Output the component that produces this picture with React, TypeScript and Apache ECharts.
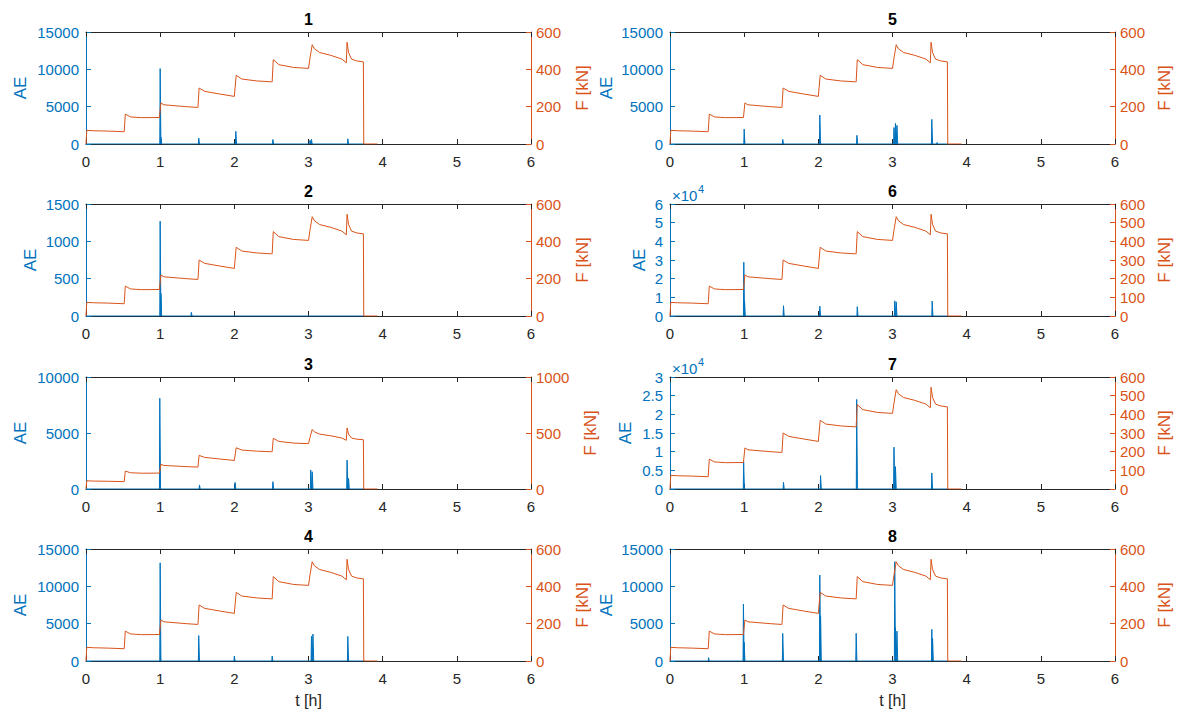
import React, { useEffect, useRef } from "react";
import * as echarts from "echarts";

const BLUE = "#0072BD";
const ORANGE = "#D95319";
const DARK = "#262626";
const FONT = "'Liberation Sans', Arial, Helvetica, sans-serif";

const PLOT_TITLES = ["1", "2", "3", "4", "5", "6", "7", "8"];
const X_MIN = 0;
const X_MAX = 6;
const X_STEP = 1;
const X_NAME = "t [h]";
const AE_NAME = "AE";
const F_NAME = "F [kN]";

// applied force (same test for all 8 sensors)
const FORCE_T = [0, 0.01, 0.1, 0.3, 0.5, 0.515, 0.53, 0.6, 0.75, 0.99, 0.995, 1.01, 1.05, 1.2, 1.35, 1.5, 1.51, 1.525, 1.6, 1.8, 2.0, 2.005, 2.025, 2.1, 2.3, 2.5, 2.51, 2.525, 2.6, 2.8, 3.0, 3.02, 3.05, 3.08, 3.15, 3.3, 3.45, 3.51, 3.52, 3.54, 3.58, 3.65, 3.74, 3.745, 3.93];
const FORCE_V = [0, 73, 71, 69, 66, 66, 160, 145, 141, 142, 142, 220, 210, 205, 200, 196, 196, 300, 282, 268, 255, 255, 368, 348, 338, 333, 333, 452, 425, 410, 405, 460, 532, 510, 490, 475, 455, 435, 545, 490, 455, 445, 440, 0, 0];

// acoustic emission peaks per sensor: times [h] and peak values
const AE1_T = [1.0, 1.01, 1.52, 2.02, 2.52, 3.02, 3.04, 3.53];
const AE1_V = [10100, 900, 800, 1700, 600, 500, 600, 700];
const AE2_T = [1.0, 1.01, 1.42];
const AE2_V = [1270, 300, 50];
const AE3_T = [0.995, 1.53, 2.01, 2.52, 3.03, 3.05, 3.52, 3.54];
const AE3_V = [8100, 360, 590, 650, 1690, 1540, 2580, 950];
const AE4_T = [1.0, 1.52, 2.0, 2.51, 3.04, 3.06, 3.53];
const AE4_V = [13150, 3400, 660, 660, 3300, 3600, 3300];
const AE5_T = [1.0, 1.52, 2.02, 2.52, 3.02, 3.04, 3.06, 3.53, 3.6];
const AE5_V = [2000, 620, 3870, 1160, 2200, 2760, 2500, 3300, 200];
const AE6_T = [0.995, 1.005, 1.53, 2.02, 2.525, 3.03, 3.05, 3.535];
const AE6_V = [28800, 7900, 5500, 5300, 5000, 8100, 7600, 8000];
const AE7_T = [0.993, 1.53, 2.03, 2.517, 3.02, 3.04, 3.53];
const AE7_V = [7300, 1800, 3600, 24000, 11200, 6000, 4300];
const AE8_T = [0.52, 0.99, 1.0, 1.52, 2.02, 2.03, 2.51, 3.03, 3.04, 3.06, 3.53, 3.54];
const AE8_V = [450, 7630, 2500, 3700, 11500, 6000, 3700, 13300, 4460, 4000, 4240, 3000];

const AE_T = [AE1_T, AE2_T, AE3_T, AE4_T, AE5_T, AE6_T, AE7_T, AE8_T];
const AE_V = [AE1_V, AE2_V, AE3_V, AE4_V, AE5_V, AE6_V, AE7_V, AE8_V];

// axis ranges
const AE_MAX = [15000, 1500, 10000, 15000, 15000, 60000, 30000, 15000];
const AE_STEP = [5000, 500, 5000, 5000, 5000, 10000, 5000, 5000];
const AE_EXP = [0, 0, 0, 0, 0, 4, 4, 0];
const F_MAX = [600, 600, 1000, 600, 600, 600, 600, 600];
const F_STEP = [200, 200, 500, 200, 200, 100, 100, 200];

// layout (pixels)
const COL_LEFT = [86, 670];
const GRID_W = 445;
const ROW_TOP = [32, 204, 377, 549];
const GRID_H = 112;
const AE_GAP = [57, 47, 57, 57, 55, 22, 36, 55];
const F_GAP = [43, 43, 51, 43, 41, 41, 41, 41];
const AE_END = 3.75;

function aeData(ts: number[], vs: number[]) {
  const out: number[][] = [[0, 0]];
  for (let k = 0; k < ts.length; k++) {
    out.push([ts[k] - 0.005, 0]);
    out.push([ts[k], vs[k]]);
    out.push([ts[k] + 0.01, 0]);
  }
  out.push([AE_END, 0]);
  return out;
}

export default function App() {
  const ref = useRef<HTMLDivElement>(null);
  useEffect(() => {
    document.body.style.margin = "0";
    const chart = echarts.init(ref.current!, undefined, { renderer: "svg" });
    const grids: any[] = [];
    const xAxes: any[] = [];
    const yAxes: any[] = [];
    const series: any[] = [];
    const graphics: any[] = [];
    const forceData = FORCE_T.map((t, k) => [t, FORCE_V[k]]);
    for (let i = 0; i < 8; i++) {
      const col = Math.floor(i / 4);
      const row = i % 4;
      const left = COL_LEFT[col];
      const top = ROW_TOP[row];
      grids.push({ left, top, width: GRID_W, height: GRID_H, show: false });
      xAxes.push({
        gridIndex: i,
        type: "value",
        min: X_MIN,
        max: X_MAX,
        interval: X_STEP,
        position: "bottom",
        axisLine: { show: true, onZero: false, lineStyle: { color: DARK, width: 1 } },
        axisTick: { show: true, inside: true, length: 5, lineStyle: { color: DARK } },
        axisLabel: { color: DARK, fontSize: 15, fontFamily: FONT, margin: 10 },
        splitLine: { show: false },
        name: row === 3 ? X_NAME : "",
        nameLocation: "middle",
        nameGap: 31,
        nameTextStyle: { color: DARK, fontSize: 16, fontFamily: FONT },
      });
      xAxes.push({
        gridIndex: i,
        type: "value",
        min: X_MIN,
        max: X_MAX,
        interval: X_STEP,
        position: "top",
        axisLine: { show: true, onZero: false, lineStyle: { color: DARK, width: 1 } },
        axisTick: { show: true, inside: true, length: 5, lineStyle: { color: DARK } },
        axisLabel: { show: false },
        splitLine: { show: false },
      });
      const exp = AE_EXP[i];
      yAxes.push({
        gridIndex: i,
        type: "value",
        position: "left",
        min: 0,
        max: AE_MAX[i],
        interval: AE_STEP[i],
        axisLine: { show: true, onZero: false, lineStyle: { color: BLUE, width: 1 } },
        axisTick: { show: true, inside: true, length: 5, lineStyle: { color: BLUE } },
        axisLabel: {
          color: BLUE,
          fontSize: 15,
          fontFamily: FONT,
          margin: 7,
          formatter: (v: number) => String(Math.round((v / Math.pow(10, exp)) * 100) / 100),
        },
        splitLine: { show: false },
        name: AE_NAME,
        nameLocation: "middle",
        nameGap: AE_GAP[i],
        nameRotate: 90,
        nameTextStyle: { color: BLUE, fontSize: 17, fontFamily: FONT },
      });
      yAxes.push({
        gridIndex: i,
        type: "value",
        position: "right",
        min: 0,
        max: F_MAX[i],
        interval: F_STEP[i],
        axisLine: { show: true, onZero: false, lineStyle: { color: ORANGE, width: 1 } },
        axisTick: { show: true, inside: true, length: 5, lineStyle: { color: ORANGE } },
        axisLabel: {
          color: ORANGE,
          fontSize: 15,
          fontFamily: FONT,
          margin: 5,
          formatter: (v: number) => String(v),
        },
        splitLine: { show: false },
        name: F_NAME,
        nameLocation: "middle",
        nameGap: F_GAP[i],
        nameRotate: 90,
        nameTextStyle: { color: ORANGE, fontSize: 17, fontFamily: FONT },
      });
      series.push({
        type: "line",
        xAxisIndex: 2 * i,
        yAxisIndex: 2 * i,
        data: aeData(AE_T[i], AE_V[i]),
        showSymbol: false,
        lineStyle: { color: BLUE, width: 1 },
        areaStyle: { color: BLUE, opacity: 1 },
        z: 2,
      });
      series.push({
        type: "line",
        xAxisIndex: 2 * i,
        yAxisIndex: 2 * i + 1,
        data: forceData,
        showSymbol: false,
        lineStyle: { color: ORANGE, width: 1 },
        z: 3,
      });
      graphics.push({
        type: "text",
        x: left + GRID_W / 2,
        y: top - 13,
        style: {
          text: PLOT_TITLES[i],
          fill: "#000",
          font: `bold 16px ${FONT}`,
          textAlign: "center",
          textVerticalAlign: "middle",
        },
      });
      if (exp > 0) {
        graphics.push({
          type: "text",
          x: left + 2,
          y: top - 9,
          style: { text: "×10", fill: BLUE, font: `15px ${FONT}`, textAlign: "left", textVerticalAlign: "middle" },
        });
        graphics.push({
          type: "text",
          x: left + 28,
          y: top - 15,
          style: { text: String(exp), fill: BLUE, font: `11px ${FONT}`, textAlign: "left", textVerticalAlign: "middle" },
        });
      }
    }
    chart.setOption({
      animation: false,
      backgroundColor: "#fff",
      textStyle: { fontFamily: FONT },
      grid: grids,
      xAxis: xAxes,
      yAxis: yAxes,
      series,
      graphic: { elements: graphics },
    });
    return () => chart.dispose();
  }, []);
  return <div ref={ref} style={{ width: 1182, height: 713 }} />;
}
